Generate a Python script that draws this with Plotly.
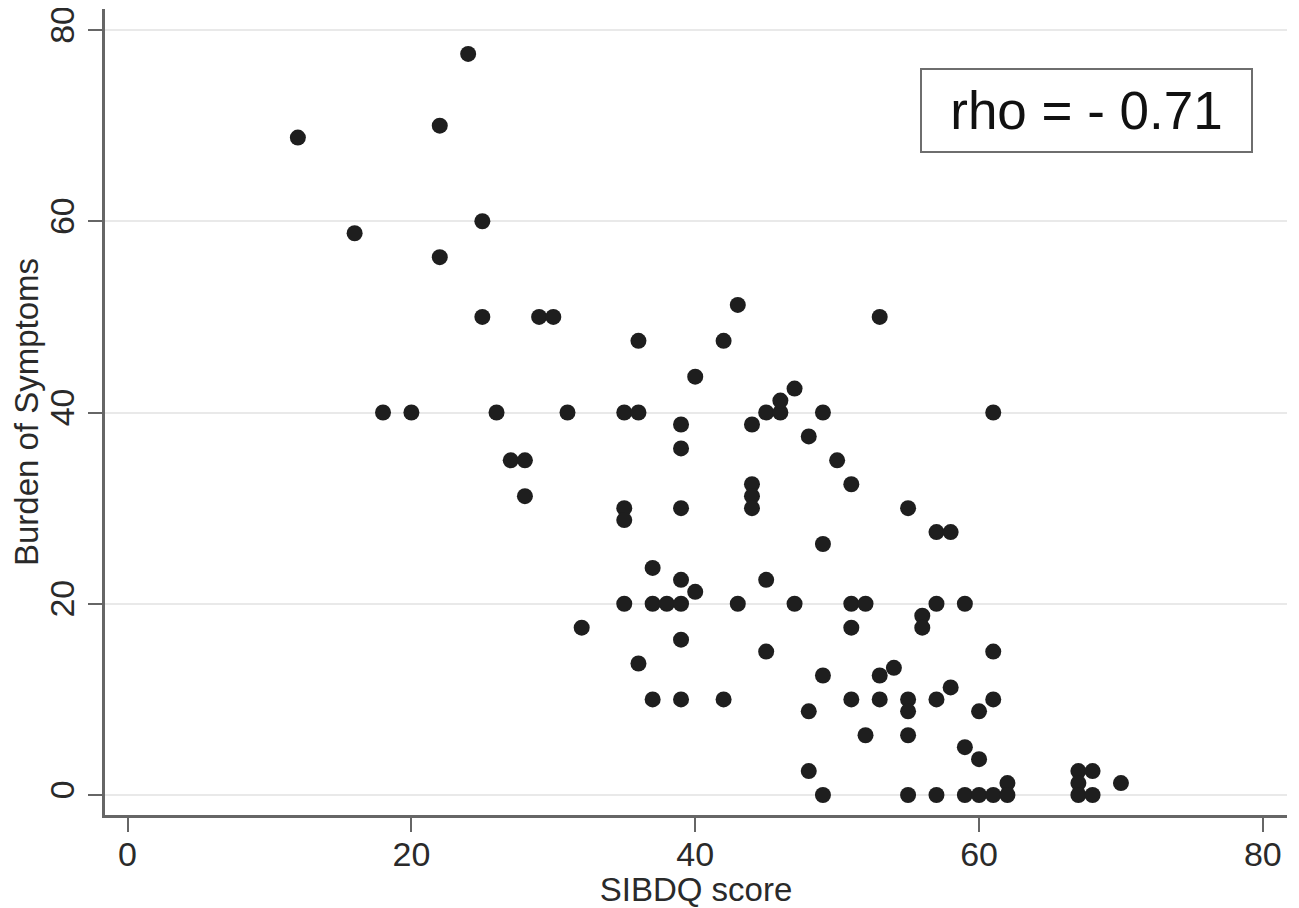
import plotly.graph_objects as go

# SIBDQ score (x) and Burden of Symptoms (y)
sibdq = [12, 16, 18, 20, 22, 22, 24, 25, 25, 26, 27, 28, 28, 29, 30, 31, 32,
         35, 36, 35, 35, 35, 36, 36, 37, 37, 37, 38, 39, 39, 39, 39, 39, 39, 39,
         40, 40, 42, 42, 43, 43, 44, 44, 44, 44, 45, 45, 45, 46, 46, 47, 47,
         48, 48, 48, 49, 49, 49, 49, 50, 51, 51, 51, 51, 52, 52, 53, 53, 53, 54,
         55, 55, 55, 55, 55, 56, 56, 57, 58, 57, 57, 57, 58, 59, 59, 59,
         60, 60, 60, 61, 61, 61, 61, 62, 62, 67, 67, 67, 68, 68, 70]
burden = [68.75, 58.75, 40, 40, 70, 56.25, 77.5, 60, 50, 40, 35, 35, 31.25, 50, 50, 40, 17.5,
          40, 40, 30, 28.75, 20, 47.5, 13.75, 23.75, 20, 10, 20, 20, 38.75, 36.25, 30, 22.5, 16.25, 10,
          43.75, 21.25, 47.5, 10, 51.25, 20, 38.75, 32.5, 31.25, 30, 40, 22.5, 15, 40, 41.25, 42.5, 20,
          37.5, 8.75, 2.5, 40, 26.25, 12.5, 0, 35, 32.5, 20, 17.5, 10, 20, 6.25, 50, 12.5, 10, 13.3,
          30, 10, 8.75, 6.25, 0, 18.75, 17.5, 27.5, 27.5, 20, 10, 0, 11.25, 20, 5, 0,
          8.75, 3.75, 0, 40, 15, 10, 0, 1.25, 0, 2.5, 1.25, 0, 2.5, 0, 1.25]

x_ticks = [0, 20, 40, 60, 80]
y_ticks = [0, 20, 40, 60, 80]
rho_text = "rho = - 0.71"

FONT = "Liberation Sans, Arial, sans-serif"
AX = "#666666"
TXT = "#2a2a2a"

fig = go.Figure()
fig.add_trace(go.Scatter(
    x=sibdq, y=burden, mode="markers",
    marker=dict(size=16, color="#1e1e1e", line=dict(width=0)),
    showlegend=False, hoverinfo="x+y"))

fig.add_annotation(
    x=67.6, y=71.6, xref="x", yref="y", text=rho_text, showarrow=False,
    font=dict(family=FONT, size=53, color="#111111"),
    bordercolor="#6e6e6e", borderwidth=2, width=327, height=79,
    bgcolor="white")

# page has an 8px body margin, so the figure is 8px smaller on each side
fig.update_layout(
    width=1291, height=900,
    margin=dict(l=97, r=12, t=1, b=93, autoexpand=False),
    paper_bgcolor="white", plot_bgcolor="white",
    font=dict(family=FONT, color=TXT),
    xaxis=dict(
        range=[-1.59, 81.7], tickvals=x_ticks, ticktext=[str(v) for v in x_ticks],
        showgrid=False, zeroline=False, automargin=False,
        showline=True, linecolor=AX, linewidth=3,
        ticks="outside", ticklen=14, tickwidth=2, tickcolor=AX,
        ticklabelstandoff=-7, ticklabeloverflow="allow",
        tickfont=dict(size=34, family=FONT, color=TXT),
        title=dict(text="SIBDQ score", font=dict(size=33, family=FONT, color=TXT), standoff=4),
    ),
    yaxis=dict(
        range=[-2.09, 82.2], tickvals=y_ticks, ticktext=[str(v) for v in y_ticks],
        showgrid=True, gridcolor="#e9e9e9", gridwidth=2, zeroline=False, automargin=False,
        showline=True, linecolor=AX, linewidth=3,
        ticks="outside", ticklen=14, tickwidth=2, tickcolor=AX,
        tickangle=-90, ticklabelstandoff=0, ticklabeloverflow="allow",
        tickfont=dict(size=34, family=FONT, color=TXT),
        title=dict(text="Burden of Symptoms", font=dict(size=33, family=FONT, color=TXT), standoff=4),
    ),
)

fig.write_html("out.html")
